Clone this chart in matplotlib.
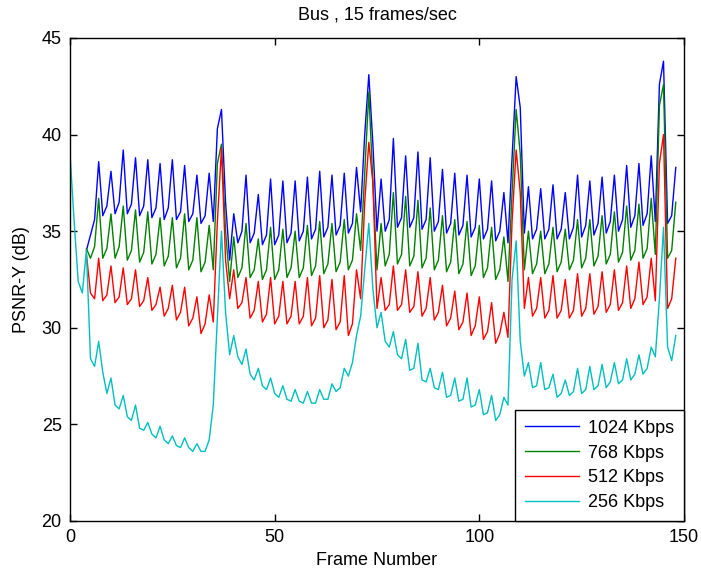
import numpy as np
import matplotlib
matplotlib.use("Agg")
import matplotlib.pyplot as plt

# PSNR-Y per frame
psnr_1024 = [
    34.0, 34.8, 35.6, 38.6, 35.8, 36.3, 38.1, 35.9, 36.5, 39.2, 35.9, 36.4,   # 4-15
    38.8, 35.8, 36.3, 38.7, 35.7, 36.2, 38.5, 35.6, 36.2, 38.7, 35.6, 36.0,   # 16-27
    38.4, 35.5, 35.9, 37.9, 35.4, 35.8, 38.0, 35.5, 40.3, 41.3, 36.5, 33.5,   # 28-39
    35.9, 34.4, 35.0, 37.9, 34.4, 34.9, 36.9, 34.3, 34.8, 37.7, 34.3, 34.8,   # 40-51
    37.6, 34.4, 34.9, 37.6, 34.5, 35.0, 37.8, 34.6, 35.1, 38.1, 34.7, 35.2,   # 52-63
    37.9, 34.8, 35.3, 38.0, 34.9, 35.4, 38.3, 36.0, 40.0, 43.1, 39.5, 35.0,   # 64-75
    37.7, 35.0, 35.6, 39.8, 35.2, 35.7, 38.9, 35.2, 35.7, 39.1, 35.1, 35.6,   # 76-87
    38.8, 35.0, 35.5, 38.2, 34.9, 35.4, 38.0, 34.8, 35.3, 37.9, 34.7, 35.2,   # 88-99
    37.7, 34.6, 35.1, 37.6, 34.5, 35.0, 37.0, 34.4, 38.8, 43.0, 41.4, 34.9,   # 100-111
    37.3, 34.6, 35.1, 37.2, 34.6, 35.1, 37.4, 34.6, 35.1, 37.0, 34.6, 35.2,   # 112-123
    37.9, 34.7, 35.3, 37.6, 34.8, 35.4, 37.8, 34.9, 35.5, 37.9, 35.0, 35.6,   # 124-135
    38.4, 35.2, 35.8, 38.5, 35.3, 35.9, 38.9, 35.5, 42.6, 43.8, 35.4, 35.8,   # 136-147
    38.3]
psnr_768 = [
    34.1, 33.6, 34.2, 36.7, 33.6, 34.1, 35.9, 33.6, 34.2, 36.3, 33.5, 34.0,
    36.1, 33.4, 33.9, 36.0, 33.3, 33.8, 35.7, 33.2, 33.7, 35.7, 33.1, 33.6,
    35.9, 33.0, 33.5, 35.7, 32.9, 33.4, 35.3, 33.0, 38.5, 39.5, 35.0, 32.4,
    34.7, 32.6, 33.1, 35.4, 32.6, 33.0, 34.6, 32.5, 33.0, 35.2, 32.5, 33.0,
    35.1, 32.6, 33.1, 35.0, 32.6, 33.1, 35.3, 32.7, 33.2, 35.5, 32.8, 33.3,
    35.4, 32.9, 33.4, 35.6, 33.0, 33.5, 35.9, 34.0, 38.0, 42.2, 37.5, 33.0,
    35.4, 33.2, 33.8, 37.0, 33.3, 33.8, 36.8, 33.2, 33.7, 36.6, 33.1, 33.6,
    36.2, 33.0, 33.5, 35.8, 32.9, 33.4, 35.6, 32.8, 33.3, 35.5, 32.7, 33.2,
    35.3, 32.6, 33.1, 35.2, 32.5, 33.0, 34.7, 32.4, 37.0, 41.3, 39.0, 33.0,
    35.0, 32.8, 33.3, 35.0, 32.8, 33.3, 35.2, 32.9, 33.4, 35.1, 33.0, 33.5,
    35.6, 33.1, 33.6, 35.6, 33.2, 33.7, 35.8, 33.3, 33.8, 36.0, 33.4, 33.9,
    36.3, 33.5, 34.0, 36.4, 33.6, 34.1, 36.7, 33.8, 41.5, 42.6, 33.6, 34.0,
    36.5]
psnr_512 = [
    33.8, 31.8, 31.5, 33.6, 31.4, 31.7, 33.2, 31.3, 31.6, 33.1, 31.2, 31.5,
    33.0, 31.1, 31.4, 32.6, 30.9, 31.2, 32.1, 30.6, 31.0, 32.2, 30.4, 30.8,
    32.1, 30.1, 30.5, 31.6, 29.7, 30.2, 31.7, 30.3, 35.5, 39.3, 33.5, 31.5,
    33.0, 31.0, 31.3, 32.6, 30.5, 30.9, 32.4, 30.3, 30.7, 32.6, 30.2, 30.6,
    32.4, 30.2, 30.6, 32.4, 30.2, 30.6, 32.6, 30.1, 30.5, 32.7, 30.0, 30.4,
    32.5, 29.9, 30.3, 32.7, 29.6, 30.2, 33.0, 31.5, 36.5, 39.6, 37.5, 31.0,
    32.6, 30.9, 31.2, 33.2, 30.9, 31.2, 33.0, 30.8, 31.1, 32.9, 30.6, 31.0,
    32.6, 30.4, 30.8, 32.2, 30.1, 30.5, 31.9, 29.9, 30.3, 31.8, 29.6, 30.1,
    31.6, 29.4, 29.8, 31.3, 29.2, 29.7, 30.8, 29.5, 35.5, 39.2, 37.0, 31.0,
    32.6, 30.6, 31.0, 32.6, 30.5, 30.9, 32.7, 30.5, 30.9, 32.5, 30.5, 30.9,
    32.8, 30.6, 31.0, 32.8, 30.7, 31.1, 32.9, 30.8, 31.2, 33.0, 30.9, 31.3,
    33.2, 31.0, 31.5, 33.4, 31.2, 31.6, 33.6, 31.4, 38.5, 40.0, 31.0, 31.5,
    33.6]
psnr_256 = [
    39.0, 35.5, 32.4, 31.8,                                                   # 0-3
    34.0, 28.4, 28.0, 29.3, 27.7, 26.6, 27.4, 26.0, 25.8, 26.5, 25.4, 25.2,
    26.0, 24.8, 24.7, 25.1, 24.5, 24.3, 24.9, 24.2, 24.0, 24.4, 23.9, 23.8,
    24.3, 23.8, 23.6, 24.0, 23.6, 23.6, 24.2, 26.0, 30.5, 35.0, 30.8, 28.6,
    29.6, 28.5, 28.1, 28.9, 27.6, 27.3, 27.9, 27.0, 26.8, 27.4, 26.6, 26.4,
    27.0, 26.3, 26.2, 26.8, 26.2, 26.1, 26.7, 26.1, 26.1, 26.8, 26.3, 26.3,
    27.1, 26.7, 26.9, 27.9, 27.5, 28.2, 29.6, 30.6, 33.0, 35.4, 32.0, 30.0,
    30.8, 29.3, 29.0, 29.8, 28.6, 28.4, 29.4, 27.8, 27.9, 29.2, 27.3, 27.2,
    27.9, 26.9, 26.8, 27.7, 26.4, 26.5, 27.4, 26.2, 26.3, 27.4, 25.9, 26.0,
    26.8, 25.5, 25.6, 26.5, 25.2, 25.5, 26.4, 26.0, 32.5, 34.5, 29.3, 27.5,
    28.2, 26.9, 27.0, 28.2, 26.8, 26.9, 27.6, 26.4, 26.6, 27.3, 26.5, 26.7,
    27.9, 26.6, 26.8, 28.0, 26.8, 27.0, 28.1, 26.9, 27.2, 28.2, 27.1, 27.3,
    28.4, 27.3, 27.6, 28.6, 27.6, 27.9, 29.0, 28.5, 31.5, 35.2, 29.0, 28.3,
    29.6]

first_frame = [4, 4, 4, 0]
labels = ['1024 Kbps', '768 Kbps', '512 Kbps', '256 Kbps']
colors = ['#0000ff', '#008000', '#ff0000', '#00bfbf']

plt.rcParams['font.family'] = ['Liberation Sans', 'DejaVu Sans']
plt.rcParams['font.size'] = 13

fig = plt.figure(figsize=(7.01, 5.71), dpi=100)
ax = fig.add_axes([0.0999, 0.0876, 0.8758, 0.8459])

for vals, f0, lab, col in zip([psnr_1024, psnr_768, psnr_512, psnr_256], first_frame, labels, colors):
    frames = np.arange(f0, f0 + len(vals))
    ax.plot(frames, vals, color=col, linewidth=1.0, label=lab)

ax.set_xlim(0, 150)
ax.set_ylim(20, 45)
ax.set_xticks([0, 50, 100, 150])
ax.set_yticks([20, 25, 30, 35, 40, 45])
ax.tick_params(direction='in', length=5, top=True, right=True, width=1, pad=6, labelsize=13)
for s in ax.spines.values():
    s.set_linewidth(1.0)

ax.set_title('Bus , 15 frames/sec', fontsize=13, pad=13)
ax.set_xlabel('Frame Number', fontsize=13, labelpad=4)
ax.set_ylabel('PSNR-Y (dB)', fontsize=13, labelpad=8)

leg = ax.legend(loc='lower right', bbox_to_anchor=(1, 0), borderaxespad=0,
                fancybox=False, edgecolor='black', framealpha=1,
                handlelength=3.0, labelspacing=0.43, borderpad=0.55,
                handletextpad=0.5, fontsize=13)
leg.get_frame().set_linewidth(1.0)

fig.savefig('out.png', dpi=100)
